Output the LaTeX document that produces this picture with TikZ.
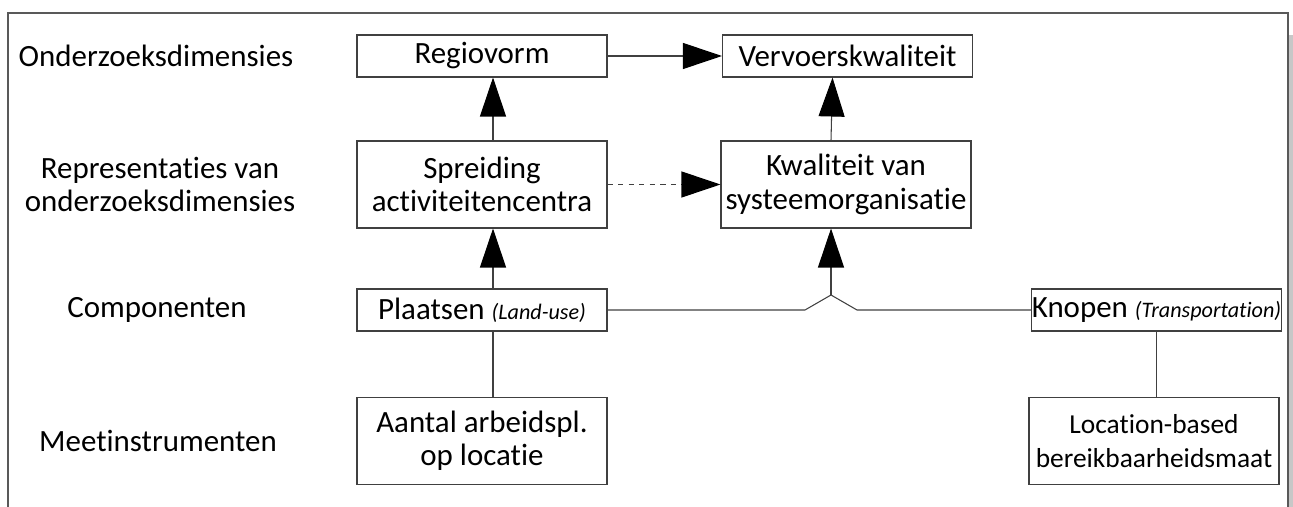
\documentclass[tikz,border=0pt]{standalone}
\usepackage{fontspec}
\setmainfont[Ligatures=CommonOff]{Carlito}
\usetikzlibrary{arrows.meta}
\usetikzlibrary{calc}
\newcommand{\lblx}{3.14cm}
\newcommand{\colxa}{9.64cm}
\newcommand{\colxb}{16.92cm}
\newcommand{\colxc}{23.1cm}
\newcommand{\rowya}{-1.12cm}
\newcommand{\rowyb}{-3.69cm}
\newcommand{\rowyc}{-6.2cm}
\newcommand{\rowyd}{-8.82cm}
\newcommand{\arrofsa}{0.22cm}
\newcommand{\arrofsb}{-0.3cm}
\newcommand{\bigfont}{\fontsize{17.6}{19}\selectfont}
\newcommand{\midfont}{\fontsize{15.6}{19}\selectfont}
\newcommand{\smallit}[1]{{\fontsize{12.6}{14}\selectfont\itshape #1}}

\begin{document}
\begin{tikzpicture}[font=\bigfont,
    box/.style={draw=black!75,line width=0.6pt,minimum width=5cm,
      minimum height=0.84cm,inner sep=1pt,align=center},
    tallbox/.style={box,minimum height=1.74cm},
    lbl/.style={align=center},
    link/.style={draw=black!75,line width=0.6pt},
    arr/.style={link,-{Triangle[length=0.78cm,width=0.52cm,color=black]}}]
    \useasboundingbox (0,0) rectangle (25.86,-10.14);

    % frame round the figure
    \fill[black!22] (25.78,-0.7) rectangle (25.86,-10.14);
    \draw[black!65,line width=0.8pt]
      (0.16,-10.3) -- (0.16,-0.26) -- (25.76,-0.26) -- (25.76,-10.3);

    % labels of the rows
    \node[lbl] (lblonderzoek) at (3.12cm, \rowya) {Onderzoeksdimensies};
    \node[lbl] (lblrepr) at (3.2cm, \rowyb) {Representaties van\\onderzoeksdimensies};
    \node[lbl] (lblcomp) at (\lblx, \rowyc) {Componenten};
    \node[lbl] (lblmeet) at (3.16cm, \rowyd) {Meetinstrumenten};

    % boxes
    \node[box] (regio) at (\colxa, \rowya) {Regiovorm};
    \node[box] (vervoer) at (\colxb + 0.03cm, \rowya) {Vervoerskwaliteit};
    \node[tallbox] (spreid) at (\colxa, \rowyb) {Spreiding\\activiteitencentra};
    \node[tallbox] (kwal) at (\colxb, \rowyb) {Kwaliteit van\\systeemorganisatie};
    \node[box] (plaats) at (\colxa, \rowyc) {Plaatsen \smallit{(Land-use)}};
    \node[box,inner sep=0pt] (knoop) at (\colxc + 0.03cm, \rowyc)
      {Knopen \smallit{(Transportation)}};
    \node[tallbox] (aantal) at (\colxa, \rowyd) {Aantal arbeidspl.\\op locatie};
    \node[tallbox,font=\midfont] (locbased) at (\colxc - 0.02cm, \rowyd)
      {Location-based\\bereikbaarheidsmaat};

    % junction under Kwaliteit
    \coordinate (bendl) at (16.1cm, \rowyc);
    \coordinate (peak) at (\colxb + \arrofsb, -5.9cm);
    \coordinate (bendr) at (17.14cm, \rowyc);

    % connectors
    \draw[arr] (regio) -- (vervoer);
    \draw[arr] ([xshift=\arrofsa]spreid.north) -- ([xshift=\arrofsa]regio.south);
    \draw[arr] ([xshift=\arrofsb]kwal.north) -- ([xshift=\arrofsb]vervoer.south);
    \draw[arr,dashed] (spreid) -- (kwal);
    \draw[arr] ([xshift=\arrofsa]plaats.north) -- ([xshift=\arrofsa]spreid.south);
    \draw[link] ([xshift=\arrofsa]aantal.north) -- ([xshift=\arrofsa]plaats.south);
    \draw[link] (plaats.east) -- (bendl) -- (peak) -- (bendr) -- (knoop.west);
    \draw[arr] (peak) -- ([xshift=\arrofsb]kwal.south);
    \draw[link] (locbased.north -| knoop.south) -- (knoop.south);
  \end{tikzpicture}
\end{document}
